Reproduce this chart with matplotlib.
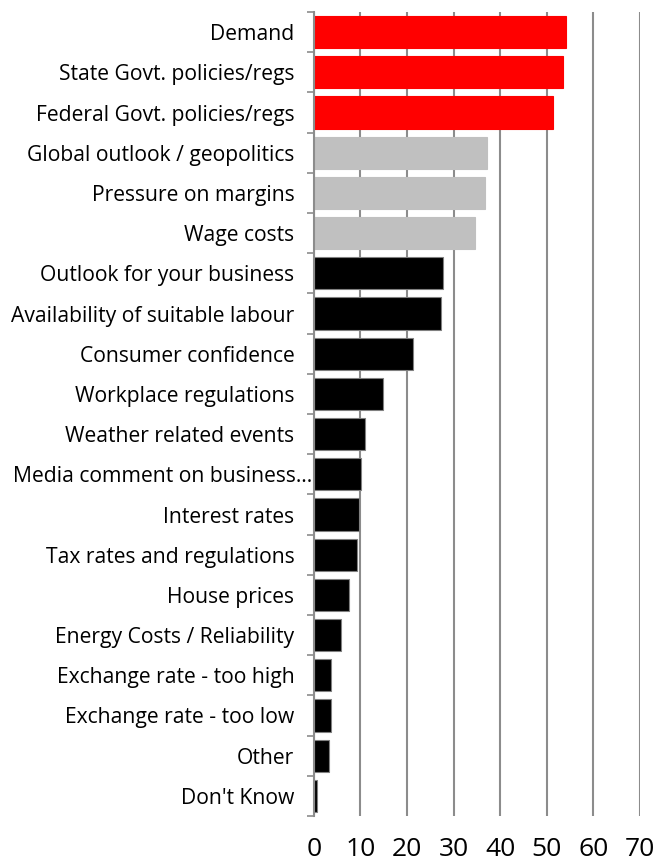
import numpy as np
import matplotlib as mpl
mpl.use('Agg')
import matplotlib.pyplot as plt
from matplotlib.ticker import FixedLocator

plt.rcParams['font.family'] = ['Open Sans', 'DejaVu Sans']

# Categories top to bottom
categories = [
    "Demand",
    "State Govt. policies/regs",
    "Federal Govt. policies/regs",
    "Global outlook / geopolitics",
    "Pressure on margins",
    "Wage costs",
    "Outlook for your business",
    "Availability of suitable labour",
    "Consumer confidence",
    "Workplace regulations",
    "Weather related events",
    "Media comment on business\u2026",
    "Interest rates",
    "Tax rates and regulations",
    "House prices",
    "Energy Costs / Reliability",
    "Exchange rate - too high",
    "Exchange rate - too low",
    "Other",
    "Don't Know",
]
values = [54.2, 53.4, 51.3, 37.1, 36.7, 34.5, 27.7, 27.3, 21.2, 14.9,
          11.0, 10.2, 9.7, 9.3, 7.6, 5.9, 3.7, 3.7, 3.3, 0.7]
groups = ["top"] * 3 + ["mid"] * 3 + ["rest"] * 14
xticks = [0, 10, 20, 30, 40, 50, 60, 70]

colours = {"top": "#ff0000", "mid": "#c0c0c0", "rest": "#000000"}
edges = {"top": "#ff0000", "mid": "#c0c0c0", "rest": "#808080"}

fig = plt.figure(figsize=(6.54, 8.61), dpi=100)
ax = fig.add_axes([0.480, 0.0523, 0.4985, 0.9337])

pos = np.arange(len(categories))
ax.barh(pos, values, height=0.8,
        color=[colours[g] for g in groups],
        edgecolor=[edges[g] for g in groups], linewidth=0.8, zorder=3)

ax.set_xlim(0, 70)
ax.set_ylim(len(categories) - 0.5, -0.5)
ax.set_xticks(xticks)
ax.set_xticklabels([str(t) for t in xticks], fontsize=19)
ax.tick_params(axis='x', length=0, pad=15)
ax.xaxis.grid(True, color='#8c8c8c', linewidth=1.5, zorder=0)

ax.set_yticks(pos)
ax.set_yticklabels(categories, fontsize=15.2)
ax.yaxis.set_minor_locator(FixedLocator(np.arange(len(categories) + 1) - 0.5))
ax.tick_params(axis='y', which='major', length=0, pad=14)
ax.tick_params(axis='y', which='minor', length=5, width=1.2, color='#8c8c8c')

# the truncated label sits closer to the axis
ax.yaxis.get_major_ticks()[11].set_pad(1.5)

for s in ['top', 'right', 'bottom']:
    ax.spines[s].set_visible(False)
ax.spines['left'].set_color('#8c8c8c')
ax.spines['left'].set_linewidth(1.5)
ax.spines['left'].set_zorder(4)

fig.savefig('out.png', dpi=100)
